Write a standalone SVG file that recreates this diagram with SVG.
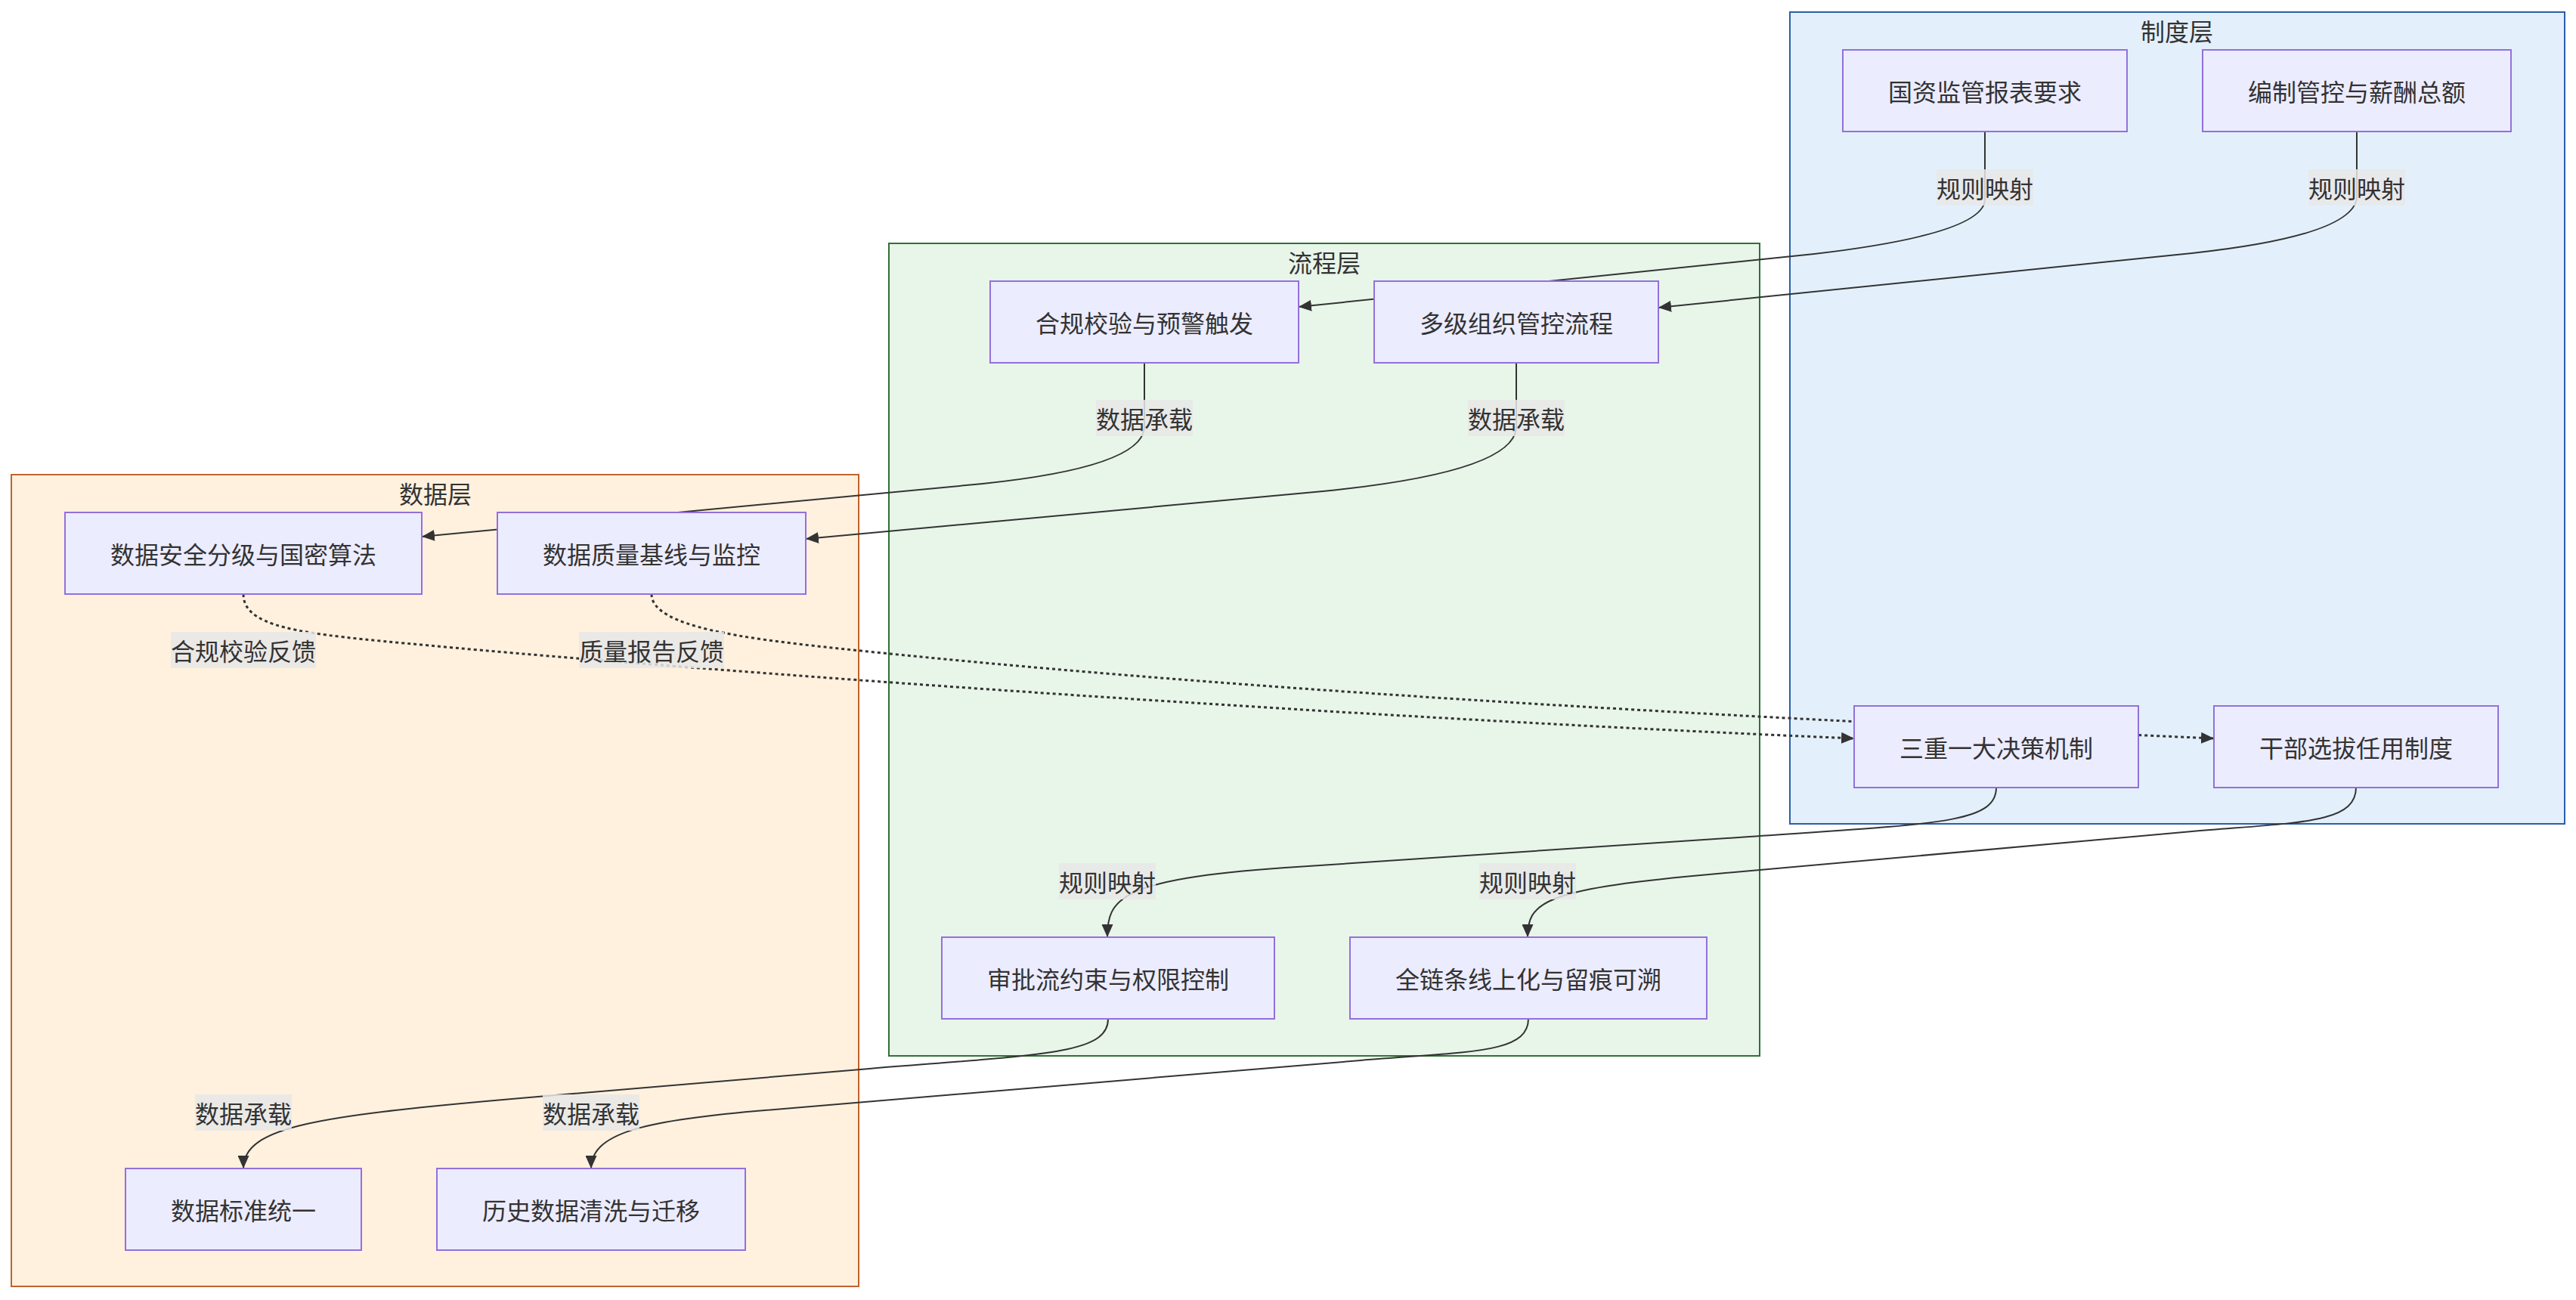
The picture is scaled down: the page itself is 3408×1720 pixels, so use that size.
<svg xmlns="http://www.w3.org/2000/svg" width="3408" height="1720" viewBox="0 0 3408 1720">
<defs>
<style>
.bg{fill:#ffffff}
.cl{stroke-width:2}
.c-inst{fill:#e3f0fc;stroke:#2b5fa6}
.c-proc{fill:#e8f5e9;stroke:#2e7234}
.c-data{fill:#fff1de;stroke:#c1622b}
.ct{font-family:"Noto Sans CJK SC","Noto Sans",sans-serif;font-size:32px;fill:#333;text-anchor:middle;dominant-baseline:central}
.node rect{fill:#ececff;stroke:#9370db;stroke-width:2}
.node text{font-family:"Noto Sans CJK SC","Noto Sans",sans-serif;font-size:32px;fill:#333;text-anchor:middle;dominant-baseline:central}
.edge{fill:none;stroke:#333;stroke-width:2}
.dot{stroke-width:3;stroke-dasharray:4 4}
.el rect{fill:#e8e8e8;fill-opacity:0.85}
.el text{font-family:"Noto Sans CJK SC","Noto Sans",sans-serif;font-size:32px;fill:#333;text-anchor:middle;dominant-baseline:central}
</style>
<marker id="arr" viewBox="0 0 17 15" refX="17" refY="7.5" markerWidth="17" markerHeight="15" markerUnits="userSpaceOnUse" orient="auto">
<path d="M0,0 L17,7.5 L0,15 z" fill="#333"/>
</marker>
</defs>
<rect class="bg" x="0" y="0" width="3408" height="1720"/>

<g id="clusters">
<g id="cluster-inst">
<rect class="cl c-inst" x="2368" y="16" width="1025" height="1074"/>
<text class="ct" x="2880" y="40">制度层</text>
</g>
<g id="cluster-proc">
<rect class="cl c-proc" x="1176" y="322" width="1152" height="1075"/>
<text class="ct" x="1752" y="346">流程层</text>
</g>
<g id="cluster-data">
<rect class="cl c-data" x="15" y="628" width="1121" height="1074"/>
<text class="ct" x="576" y="652">数据层</text>
</g>
</g>

<g id="connectors">
<path class="edge" marker-end="url(#arr)" d="M2626,174 L2626,265 Q2622,310 2400,336 L1718,406"/>
<path class="edge" marker-end="url(#arr)" d="M3118,174 L3118,262 Q3112,312 2900,335 L2194,407"/>
<path class="edge" marker-end="url(#arr)" d="M1514,480 L1514,566 Q1510,618 1300,640 L558,710"/>
<path class="edge" marker-end="url(#arr)" d="M2006,480 L2006,566 Q2002,625 1750,650 L1066,713"/>
<path class="edge dot" marker-end="url(#arr)" d="M322,786 C322,836 420,840 600,857 C1000,893 1800,950 2453,977"/>
<path class="edge dot" marker-end="url(#arr)" d="M862,786 C862,830 990,845 1100,857 C1600,910 2200,945 2929,977"/>
<path class="edge" marker-end="url(#arr)" d="M2641,1042 C2641,1090 2560,1090 2300,1108 L1700,1148 C1480,1163 1465,1190 1465,1240"/>
<path class="edge" marker-end="url(#arr)" d="M3117,1042 C3117,1090 3040,1088 2900,1100 L2250,1158 C2040,1177 2021,1195 2021,1240"/>
<path class="edge" marker-end="url(#arr)" d="M1466,1348 C1466,1395 1380,1395 1150,1414 L700,1452 C420,1476 322,1490 322,1546"/>
<path class="edge" marker-end="url(#arr)" d="M2022,1348 C2022,1395 1940,1391 1800,1403 L1000,1470 C850,1483 782,1500 782,1546"/>
</g>

<g id="edge-labels">
<g class="el"><rect x="2562" y="224" width="128" height="48"/><text x="2626" y="248">规则映射</text></g>
<g class="el"><rect x="3054" y="224" width="128" height="48"/><text x="3118" y="248">规则映射</text></g>
<g class="el"><rect x="1450" y="529" width="128" height="48"/><text x="1514" y="553">数据承载</text></g>
<g class="el"><rect x="1942" y="529" width="128" height="48"/><text x="2006" y="553">数据承载</text></g>
<g class="el"><rect x="226" y="836" width="192" height="48"/><text x="322" y="860">合规校验反馈</text></g>
<g class="el"><rect x="766" y="836" width="192" height="48"/><text x="862" y="860">质量报告反馈</text></g>
<g class="el"><rect x="1401" y="1142" width="128" height="48"/><text x="1465" y="1166">规则映射</text></g>
<g class="el"><rect x="1957" y="1142" width="128" height="48"/><text x="2021" y="1166">规则映射</text></g>
<g class="el"><rect x="258" y="1448" width="128" height="48"/><text x="322" y="1472">数据承载</text></g>
<g class="el"><rect x="718" y="1448" width="128" height="48"/><text x="782" y="1472">数据承载</text></g>
</g>

<g id="n-gzjg" class="node"><rect x="2438" y="66" width="376" height="108"/><text x="2626" y="120">国资监管报表要求</text></g>
<g id="n-bzgk" class="node"><rect x="2914" y="66" width="408" height="108"/><text x="3118" y="120">编制管控与薪酬总额</text></g>
<g id="n-hgjy" class="node"><rect x="1310" y="372" width="408" height="108"/><text x="1514" y="426">合规校验与预警触发</text></g>
<g id="n-djzz" class="node"><rect x="1818" y="372" width="376" height="108"/><text x="2006" y="426">多级组织管控流程</text></g>
<g id="n-sjaq" class="node"><rect x="86" y="678" width="472" height="108"/><text x="322" y="732">数据安全分级与国密算法</text></g>
<g id="n-sjzl" class="node"><rect x="658" y="678" width="408" height="108"/><text x="862" y="732">数据质量基线与监控</text></g>
<g id="n-szyd" class="node"><rect x="2453" y="934" width="376" height="108"/><text x="2641" y="988">三重一大决策机制</text></g>
<g id="n-gbxb" class="node"><rect x="2929" y="934" width="376" height="108"/><text x="3117" y="988">干部选拔任用制度</text></g>
<g id="n-splc" class="node"><rect x="1246" y="1240" width="440" height="108"/><text x="1466" y="1294">审批流约束与权限控制</text></g>
<g id="n-qlt" class="node"><rect x="1786" y="1240" width="472" height="108"/><text x="2022" y="1294">全链条线上化与留痕可溯</text></g>
<g id="n-sjbz" class="node"><rect x="166" y="1546" width="312" height="108"/><text x="322" y="1600">数据标准统一</text></g>
<g id="n-lssj" class="node"><rect x="578" y="1546" width="408" height="108"/><text x="782" y="1600">历史数据清洗与迁移</text></g>
</svg>
